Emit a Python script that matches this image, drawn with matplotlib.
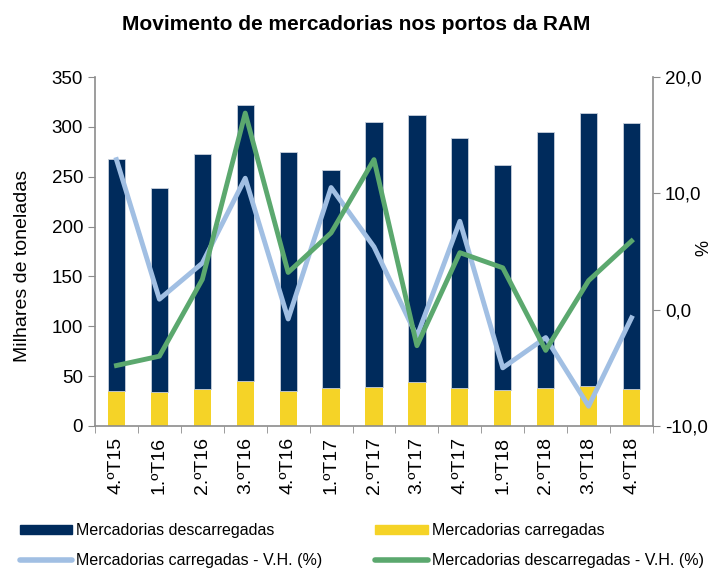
import numpy as np
import matplotlib
matplotlib.use("Agg")
import matplotlib.pyplot as plt
from matplotlib.patches import Patch
from matplotlib.lines import Line2D

plt.rcParams['font.family'] = ['Liberation Sans', 'DejaVu Sans']

trimestres = ["4.ºT15", "1.ºT16", "2.ºT16", "3.ºT16", "4.ºT16", "1.ºT17", "2.ºT17",
              "3.ºT17", "4.ºT17", "1.ºT18", "2.ºT18", "3.ºT18", "4.ºT18"]
# milhares de toneladas
carregadas = [35, 34, 37, 45, 35, 38, 39, 44, 38, 36, 38, 40, 37]
total = [268, 239, 273, 322, 275, 257, 305, 312, 289, 262, 295, 314, 304]
descarregadas = [t - c for t, c in zip(total, carregadas)]
# variação homóloga (%)
vh_carregadas = [12.9, 0.9, 4.0, 11.3, -0.8, 10.5, 5.4, -2.3, 7.6, -5.0, -2.4, -8.3, -0.7]
vh_descarregadas = [-4.8, -4.0, 2.6, 16.9, 3.2, 6.6, 12.9, -3.1, 4.9, 3.6, -3.5, 2.5, 5.9]

azul = "#002B5C"
amarelo = "#F5D327"
azul_claro = "#A1BFE3"
verde = "#5BA86E"
cinza = "#8C8C8C"

fig = plt.figure(figsize=(7.13, 5.68), dpi=100)
ax = fig.add_axes([95/713, 1 - 426/568, 558/713, 349/568])
x = np.arange(len(trimestres))

ax.bar(x, carregadas, width=0.4, color=amarelo, zorder=2)
ax.bar(x, descarregadas, width=0.4, bottom=carregadas, color=azul,
       edgecolor="#C8D0DC", linewidth=0.6, zorder=2)
ax.set_xlim(-0.5, len(trimestres) - 0.5)
ax.set_ylim(0, 350)
ax.set_yticks(range(0, 351, 50))
ax.set_ylabel("Milhares de toneladas", fontsize=14)
ax.yaxis.set_label_coords(-0.114, 0.46)

ax.set_xticks(x)
ax.set_xticklabels(trimestres, rotation=90, fontsize=14)
ax.set_xticks(np.arange(-0.5, len(trimestres)), minor=True)
ax.tick_params(axis="x", which="major", length=0, pad=8)
ax.tick_params(axis="x", which="minor", length=5, color=cinza, direction="out")
ax.tick_params(axis="y", labelsize=13.5, length=5, color=cinza, direction="out")

for s in ["top", "right"]:
    ax.spines[s].set_visible(False)
for s in ["left", "bottom"]:
    ax.spines[s].set_color(cinza)
    ax.spines[s].set_linewidth(1.2)

ax2 = ax.twinx()
ax2.plot(x, vh_carregadas, color=azul_claro, linewidth=3.5, zorder=3)
ax2.plot(x, vh_descarregadas, color=verde, linewidth=3.5, zorder=4)
ax2.set_ylim(-10, 20)
ax2.set_yticks([-10, 0, 10, 20])
ax2.set_yticklabels(["-10,0", "0,0", "10,0", "20,0"])
ax2.tick_params(axis="y", labelsize=13.5, length=5, color=cinza, direction="out")
for s in ["top", "left", "bottom"]:
    ax2.spines[s].set_visible(False)
ax2.spines["right"].set_color(cinza)
ax2.spines["right"].set_linewidth(1.2)
fig.text(704/713, 1 - 248/568, "%", rotation=90, fontsize=13, ha="center", va="center")

fig.suptitle("Movimento de mercadorias nos portos da RAM", fontsize=15,
             fontweight="bold", x=0.5, y=1 - 25/568, va="center")

# ordem por colunas: col1 = descarregadas, carregadas V.H.; col2 = carregadas, descarregadas V.H.
handles = [Patch(color=azul),
           Line2D([], [], color=azul_claro, linewidth=4, solid_capstyle="round"),
           Patch(color=amarelo),
           Line2D([], [], color=verde, linewidth=4, solid_capstyle="round")]
labels = ["Mercadorias descarregadas", "Mercadorias carregadas - V.H. (%)",
          "Mercadorias carregadas", "Mercadorias descarregadas - V.H. (%)"]
fig.legend(handles, labels, loc="lower left", bbox_to_anchor=(0.012, -0.02),
           ncol=2, frameon=False, fontsize=11.5, handlelength=3.3,
           handleheight=0.5, handletextpad=0.25, columnspacing=3.3,
           labelspacing=0.95, borderaxespad=0.3)

fig.savefig("out.png", dpi=100)
